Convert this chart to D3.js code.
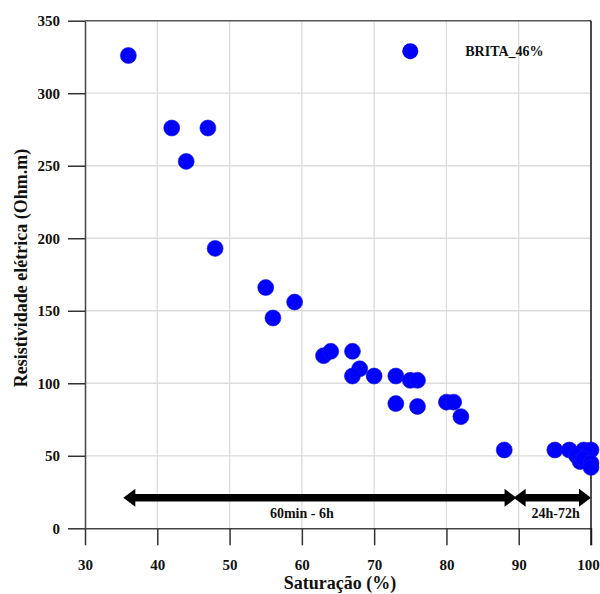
<!DOCTYPE html>
<html>
<head>
<meta charset="utf-8">
<script src="https://cdn.jsdelivr.net/npm/d3@7"></script>
<style>
  body { margin: 0; background: #fff; }
  svg text { font-family: "Liberation Serif", "Times New Roman", serif; font-weight: bold; fill: #111; }
</style>
</head>
<body>
<svg id="chart" width="600" height="594"></svg>
<script>
// saturation (%) and resistivity (Ohm.m)
const saturacao = [36, 42, 47, 44, 48, 55, 59, 56, 63, 64, 67, 68, 67, 70, 73, 75, 76, 73, 76, 80, 81, 82, 88,
                   95, 97, 99, 100, 98, 98.5, 99, 100, 100];
const resistividade = [326, 276, 276, 253, 193, 166, 156, 145, 119, 122, 122, 110, 105, 105, 105, 102, 102, 86, 84, 87, 87, 77, 54,
                       54, 54, 54, 54, 50, 46, 48, 45, 42];
const xTicks = [30, 40, 50, 60, 70, 80, 90, 100];
const yTicks = [0, 50, 100, 150, 200, 250, 300, 350];
const serieNome = "BRITA_46%";
// time ranges shown as arrows under the points
const faixas = ["60min - 6h", "24h-72h"];
const faixaInicio = [35.3, 89.3];
const faixaFim = [89.7, 100];
const faixaTexto = [60, 95.1];
const faixaY = 21;

const svg = d3.select("#chart");
const width = 600, height = 594;
const margin = {top: 20.7, right: 9, bottom: 65.7, left: 85};

const x = d3.scaleLinear().domain([30, 100]).range([margin.left, width - margin.right]);
const y = d3.scaleLinear().domain([0, 350]).range([height - margin.bottom, margin.top]);

// grid
svg.append("g")
    .selectAll("line")
    .data(xTicks.slice(1, -1))
    .enter()
    .append("line")
    .attr("x1", d => x(d)).attr("x2", d => x(d))
    .attr("y1", y(0)).attr("y2", y(350))
    .attr("stroke", "#dcdcdc").attr("stroke-width", 1.3);
svg.append("g")
    .selectAll("line")
    .data(yTicks.slice(1, -1))
    .enter()
    .append("line")
    .attr("x1", x(30)).attr("x2", x(100))
    .attr("y1", d => y(d)).attr("y2", d => y(d))
    .attr("stroke", "#dcdcdc").attr("stroke-width", 1.3);

// axes
const xAxis = svg.append("g")
    .attr("transform", `translate(0,${y(0)})`)
    .call(d3.axisBottom(x).tickValues(xTicks).tickSize(17).tickPadding(6).tickSizeOuter(0));
const yAxis = svg.append("g")
    .attr("transform", `translate(${x(30)},0)`)
    .call(d3.axisLeft(y).tickValues(yTicks).tickSize(17).tickPadding(8).tickSizeOuter(0));
[xAxis, yAxis].forEach(ax => {
    ax.select(".domain").attr("stroke", "#444").attr("stroke-width", 1.5);
    ax.selectAll(".tick line").attr("stroke", "#333").attr("stroke-width", 1.5);
    ax.selectAll(".tick text").attr("font-size", 15).attr("font-family", null).attr("fill", "#111");
});
xAxis.selectAll(".tick text").attr("dy", "1.25em");
// last label sits on the window edge, nudge it in a little
xAxis.selectAll(".tick text").filter(d => d === 100).attr("dx", -3);

// frame: top and right
svg.append("line")
    .attr("x1", x(30)).attr("x2", x(100)).attr("y1", y(350)).attr("y2", y(350))
    .attr("stroke", "#555").attr("stroke-width", 1.5);
svg.append("line")
    .attr("x1", x(100)).attr("x2", x(100)).attr("y1", y(350)).attr("y2", y(0) + 17)
    .attr("stroke", "#111").attr("stroke-width", 1.5);

// arrows
const headLen = 12, headHalf = 9;
const arrows = svg.append("g");
faixas.forEach((nome, i) => {
    const x0 = x(faixaInicio[i]), x1 = x(faixaFim[i]), yy = y(faixaY);
    arrows.append("line")
        .attr("x1", x0 + headLen - 1).attr("x2", x1 - headLen + 1)
        .attr("y1", yy).attr("y2", yy)
        .attr("stroke", "#000").attr("stroke-width", 7.5);
    arrows.append("path")
        .attr("d", `M${x0},${yy} L${x0 + headLen},${yy - headHalf} L${x0 + headLen},${yy + headHalf} Z`)
        .attr("fill", "#000");
    arrows.append("path")
        .attr("d", `M${x1},${yy} L${x1 - headLen},${yy - headHalf} L${x1 - headLen},${yy + headHalf} Z`)
        .attr("fill", "#000");
    arrows.append("text")
        .attr("x", x(faixaTexto[i])).attr("y", yy + 20)
        .attr("text-anchor", "middle")
        .attr("font-size", 14)
        .text(nome);
});

// points
svg.append("g")
    .selectAll("circle")
    .data(saturacao.map((s, i) => [s, resistividade[i]]))
    .enter()
    .append("circle")
    .attr("cx", d => x(d[0]))
    .attr("cy", d => y(d[1]))
    .attr("r", 8)
    .attr("fill", "#0000ff")
    .attr("stroke", "#1a1ad8")
    .attr("stroke-width", 0.6);

// legend
const legend = svg.append("g").attr("transform", `translate(${x(75)},${y(329)})`);
legend.append("circle").attr("r", 8).attr("fill", "#0000ff");
legend.append("text").attr("x", 55).attr("y", 5).attr("font-size", 14).text(serieNome);

// axis titles
svg.append("text")
    .attr("x", (x(30) + x(100)) / 2 + 2).attr("y", 589)
    .attr("text-anchor", "middle")
    .attr("font-size", 18)
    .text("Saturação (%)");
svg.append("text")
    .attr("transform", `translate(27,268) rotate(-90)`)
    .attr("text-anchor", "middle")
    .attr("font-size", 18)
    .text("Resistividade elétrica (Ohm.m)");
</script>
</body>
</html>
